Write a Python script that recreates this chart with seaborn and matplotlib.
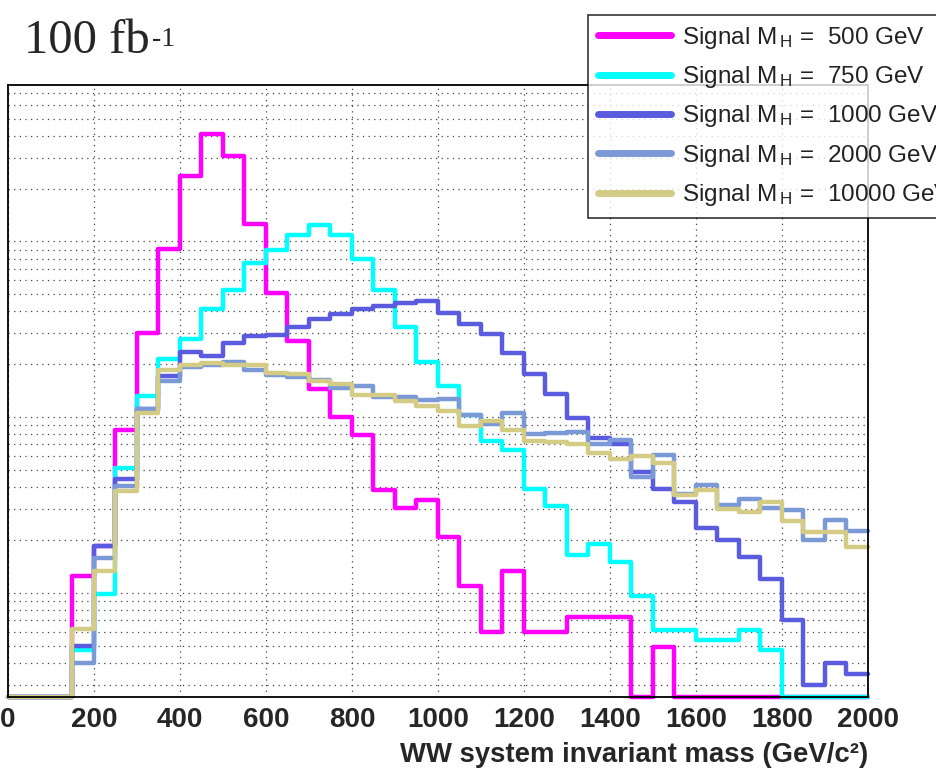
import numpy as np
import pandas as pd
import matplotlib
matplotlib.use("Agg")
import matplotlib.pyplot as plt
import seaborn as sns
from matplotlib.ticker import LogLocator, NullFormatter, MultipleLocator

sns.set_style("white")
plt.rcParams['font.family'] = ['Liberation Sans', 'DejaVu Sans']
plt.rcParams['mathtext.fontset'] = 'custom'
plt.rcParams['mathtext.rm'] = 'Liberation Sans'
plt.rcParams['mathtext.it'] = 'Liberation Sans:italic'

# ==================== DATA ====================
# 40 bins of 50 GeV, 0 - 2000 GeV/c^2 (events per bin, y axis unlabelled)
bin_width = 50
mass_range = (0, 2000)

sig_500 = [0, 0, 0, 1.24, 1.84, 8.5, 30.2, 90.6, 236, 410,
           308, 125, 51, 27, 14.4, 10.0, 7.95, 3.83, 3.04, 3.36,
           2.07, 1.09, 0.60, 1.33, 0.60, 0.60, 0.73, 0.73, 0.73, 0,
           0.49, 0, 0, 0, 0, 0, 0, 0, 0, 0]
sig_750 = [0, 0, 0, 0.47, 0.98, 5.1, 13.2, 21.5, 27.9, 41,
           53, 75, 90, 109, 124, 109, 80, 52.6, 32.6, 20.7,
           15.0, 10.3, 7.3, 6.5, 3.9, 3.1, 1.63, 1.90, 1.50, 0.96,
           0.61, 0.61, 0.54, 0.54, 0.61, 0.475, 0, 0, 0, 0]
sig_1000 = [0, 0, 0, 0.50, 1.84, 4.42, 11.1, 17.1, 23.4, 22.3,
            26.5, 28.8, 29.5, 32.5, 36.2, 38.9, 41.1, 43.1, 44.6, 45.6,
            39.2, 34.0, 29.8, 23.2, 17.5, 13.6, 9.9, 7.6, 7.07, 4.88,
            3.91, 3.3, 2.34, 1.99, 1.60, 1.19, 0.70, 0.30, 0.40, 0.347]
sig_2000 = [0, 0, 0, 0.40, 1.58, 4.04, 11.1, 16.0, 19.4, 19.8,
            20.5, 18.6, 17.4, 17.0, 16.3, 14.6, 15.0, 13.0, 13.0, 12.5,
            12.7, 10.3, 9.1, 10.6, 8.05, 8.13, 8.2, 7.0, 7.4, 4.57,
            6.05, 3.65, 4.13, 3.18, 3.43, 3.04, 2.95, 2.01, 2.59, 2.24]
sig_10000 = [0, 0, 0, 0.62, 1.33, 3.78, 10.6, 18.6, 19.7, 20.3,
             19.9, 19.9, 17.8, 17.5, 16.0, 15.4, 13.4, 13.4, 12.3, 11.5,
             10.8, 8.9, 9.5, 8.5, 7.3, 7.2, 7.07, 6.26, 5.78, 5.98,
             5.5, 3.58, 3.87, 2.98, 2.87, 3.28, 2.55, 2.21, 2.21, 1.83]

higgs_masses = ["500", "750", "1000", "2000", "10000"]
colors = ['#ff00ff', '#00ffff', '#5b5bdf', '#7a99d6', '#d4cb85']
series = [sig_500, sig_750, sig_1000, sig_2000, sig_10000]

# ==================== PLOT ====================
fig = plt.figure(figsize=(9.37, 7.74), dpi=100)
ax = fig.add_axes([8 / 937, 1 - 697 / 774, 860 / 937, 612 / 774])
ax.set_yscale('log')

y_min, y_max = 0.255, 778
centers = np.arange(mass_range[0], mass_range[1], bin_width) + bin_width / 2

for vals, mh, col in zip(series, higgs_masses, colors):
    w = np.asarray(vals, dtype=float)
    df = pd.DataFrame({'mass': centers,
                       'events': np.where(w > 0, w, y_min)})  # empty bins sit on the axis floor
    lab = r"Signal M$\,_{\rm H}$ =  " + mh + " GeV"
    sns.histplot(data=df, x='mass', weights='events', binwidth=bin_width,
                 binrange=mass_range, element="step", fill=False, color=col,
                 linewidth=3.2, label=lab, ax=ax, clip_on=False)

ax.set_xlim(0, 2000)
ax.set_ylim(y_min, y_max)

# ticks
ax.xaxis.set_major_locator(MultipleLocator(200))
ax.xaxis.set_minor_locator(MultipleLocator(50))
ax.yaxis.set_major_locator(LogLocator(base=10))
ax.yaxis.set_minor_locator(LogLocator(base=10, subs=np.arange(2, 10)))
ax.yaxis.set_major_formatter(NullFormatter())
ax.yaxis.set_minor_formatter(NullFormatter())
ax.tick_params(axis='x', which='major', direction='in', length=14, width=1.2,
               labelsize=20, pad=7)
ax.tick_params(axis='x', which='minor', direction='in', length=6, width=1.0)
ax.tick_params(axis='y', which='major', direction='in', length=20, width=1.2)
ax.tick_params(axis='y', which='minor', direction='in', length=11, width=1.0)
for lbl in ax.get_xticklabels():
    lbl.set_fontweight('bold')

ax.grid(True, axis='x', which='major', color='#444444', linestyle=(0, (1, 3.5)), linewidth=0.9)
ax.grid(True, axis='y', which='both', color='#444444', linestyle=(0, (1, 3.5)), linewidth=0.9)
ax.set_axisbelow(True)
for sp in ax.spines.values():
    sp.set_color('black')
    sp.set_linewidth(1.3)

ax.set_ylabel('')
ax.set_xlabel("WW system invariant mass (GeV/c²)", fontsize=19.8, fontweight='bold',
              loc='right', labelpad=7)

# luminosity label
t = fig.text(24 / 937, 1 - 53 / 774, "100 fb", family='Liberation Serif', fontsize=35,
             va='baseline', ha='left')
ax.annotate("-1", xy=(1.0, 1.0), xycoords=t, xytext=(1.5, -6), textcoords='offset points',
            family='Liberation Serif', fontsize=20, va='top', ha='left',
            annotation_clip=False)

handles, labs = ax.get_legend_handles_labels()
leg = fig.legend(handles, labs, loc='upper left', bbox_to_anchor=(588 / 937, 1 - 15 / 774),
                 borderaxespad=0, fontsize=17.5, frameon=True, fancybox=False,
                 handlelength=3.0, handletextpad=0.45, labelspacing=0.55,
                 borderpad=0.4)
leg.get_frame().set_edgecolor('black')
leg.get_frame().set_linewidth(1.2)
for line in leg.get_lines():
    line.set_linewidth(5)
for txt in leg.get_texts():
    txt.set_color('#222222')

fig.savefig('out.png', dpi=100)
